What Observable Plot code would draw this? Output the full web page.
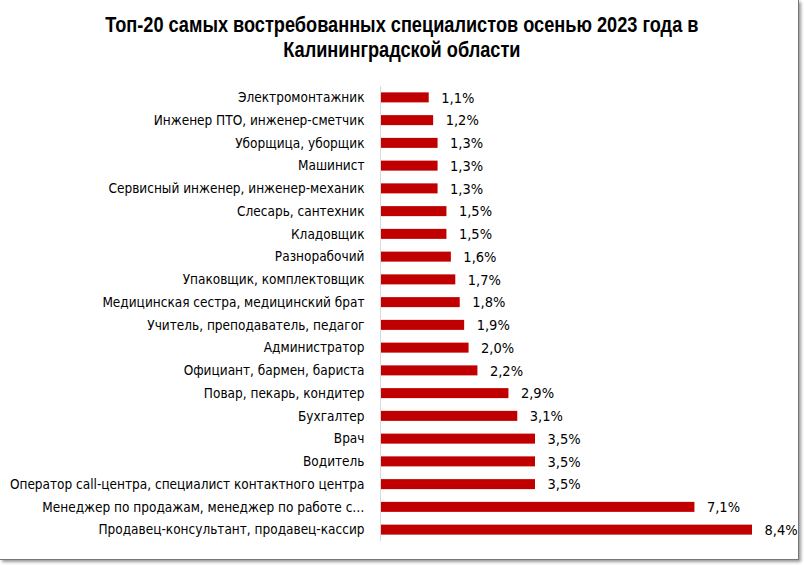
<!DOCTYPE html>
<html><head><meta charset="utf-8">
<script src="https://cdn.jsdelivr.net/npm/d3@7"></script>
<script src="https://cdn.jsdelivr.net/npm/@observablehq/plot@0.6"></script>
<style>
html,body{margin:0;padding:0;background:#fff;}
#frame{position:absolute;left:0;top:0;width:798px;height:559px;border-right:1px solid #777;border-bottom:1px solid #777;box-shadow:2px 2px 3px #999;background:#fff;overflow:hidden;}
#title{position:absolute;left:0;top:13px;width:804px;text-align:center;font-family:"Liberation Sans",Arial,sans-serif;font-weight:bold;font-size:21.5px;line-height:25px;color:#000;transform:scaleX(0.845);transform-origin:401px 0;}
#chart{position:absolute;left:0;top:76px;}
</style></head>
<body>
<div id="frame"></div>
<div id="title">Топ-20 самых востребованных специалистов осенью 2023 года в<br>Калининградской области</div>
<div id="chart"></div>
<script>
const professions = [
  "Электромонтажник",
  "Инженер ПТО, инженер-сметчик",
  "Уборщица, уборщик",
  "Машинист",
  "Сервисный инженер, инженер-механик",
  "Слесарь, сантехник",
  "Кладовщик",
  "Разнорабочий",
  "Упаковщик, комплектовщик",
  "Медицинская сестра, медицинский брат",
  "Учитель, преподаватель, педагог",
  "Администратор",
  "Официант, бармен, бариста",
  "Повар, пекарь, кондитер",
  "Бухгалтер",
  "Врач",
  "Водитель",
  "Оператор call-центра, специалист контактного центра",
  "Менеджер по продажам, менеджер по работе с…",
  "Продавец-консультант, продавец-кассир"
];
const shares = [1.1, 1.2, 1.3, 1.3, 1.3, 1.5, 1.5, 1.6, 1.7, 1.8, 1.9, 2.0, 2.2, 2.9, 3.1, 3.5, 3.5, 3.5, 7.1, 8.4];
const labels = ["1,1%","1,2%","1,3%","1,3%","1,3%","1,5%","1,5%","1,6%","1,7%","1,8%","1,9%","2,0%","2,2%","2,9%","3,1%","3,5%","3,5%","3,5%","7,1%","8,4%"];

const data = professions.map((p, i) => ({profession: p, share: shares[i], label: labels[i]}));
const font = '"DejaVu Sans Condensed",sans-serif';

const chart = Plot.plot({
  width: 804,
  height: 475,
  marginTop: 10,
  marginBottom: 10,
  marginLeft: 380,
  marginRight: 52,
  style: {fontFamily: font, fontSize: "13.5px", color: "#000", background: "transparent"},
  x: {domain: [0, 8.4], axis: null},
  y: {domain: professions, paddingInner: 0.56, paddingOuter: 0.28, round: false, label: null},
  marks: [
    Plot.barX(data, {x: "share", y: "profession", fill: "#c00000"}),
    Plot.ruleX([0], {stroke: "#d9d9d9", strokeWidth: 1}),
    Plot.text(data, {x: "share", y: "profession", text: "label", textAnchor: "start", dx: 12, fontSize: 14.5, fill: "#000"}),
    Plot.axisY({tickSize: 0, tickPadding: 16, fontSize: 13.5, label: null, textOverflow: null})
  ]
});
document.getElementById("chart").appendChild(chart);
</script>
</body></html>
